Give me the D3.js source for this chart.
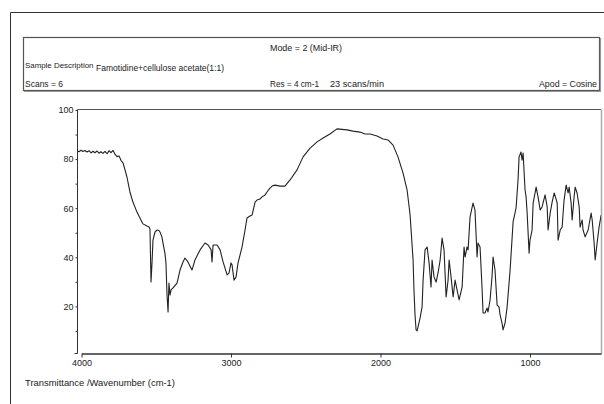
<!DOCTYPE html>
<html>
<head>
<meta charset="utf-8">
<script src="https://cdn.jsdelivr.net/npm/d3@7/dist/d3.min.js"></script>
<style>
  html, body { margin: 0; padding: 0; background: #fff; }
  svg { display: block; }
  text { font-family: "Liberation Sans", Arial, sans-serif; fill: #222; }
</style>
</head>
<body>
<svg id="chart" width="604" height="404"></svg>
<script>
// IR spectrum: wavenumber (cm-1) and % transmittance
const wavenumber = [
  4030, 4017, 4003, 3990, 3977, 3963, 3950, 3936, 3923, 3910, 3896, 3883, 3870, 3856, 3843, 3829, 3816, 3803, 3789, 3776,
  3762, 3749, 3736, 3722, 3709, 3696, 3676, 3656, 3629, 3609, 3589, 3562, 3548, 3542, 3535, 3528, 3522, 3508, 3495, 3482,
  3475, 3462, 3455, 3442, 3435, 3428, 3421, 3415, 3408, 3401, 3388, 3361, 3341, 3321, 3308, 3288, 3261, 3241, 3207, 3174,
  3153, 3133, 3127, 3120, 3093, 3073, 3053, 3026, 3013, 3000, 2993, 2980, 2966, 2953, 2926, 2906, 2893, 2873, 2859, 2839,
  2826, 2806, 2792, 2772, 2759, 2739, 2725, 2705, 2672, 2639, 2605, 2558, 2518, 2471, 2424, 2384, 2338, 2291, 2258, 2224,
  2184, 2137, 2104, 2070, 2023, 1983, 1950, 1916, 1883, 1849, 1822, 1802, 1782, 1776, 1769, 1762, 1755, 1749, 1735, 1722,
  1715, 1702, 1688, 1675, 1662, 1655, 1642, 1628, 1615, 1601, 1588, 1575, 1561, 1548, 1541, 1528, 1514, 1501, 1488, 1474,
  1454, 1441, 1434, 1421, 1414, 1401, 1388, 1381, 1368, 1354, 1348, 1334, 1321, 1314, 1301, 1287, 1281, 1267, 1254, 1247,
  1234, 1220, 1207, 1200, 1187, 1180, 1167, 1153, 1133, 1113, 1093, 1080, 1073, 1060, 1053, 1046, 1033, 1026, 1019, 1006,
  1000, 986, 979, 959, 946, 932, 919, 899, 885, 879, 865, 852, 838, 818, 812, 798, 785, 772, 758, 745,
  738, 725, 718, 705, 698, 685, 671, 665, 651, 645, 631, 611, 591, 584, 571, 564, 551, 538, 524
];
const transmittance = [
  83.4, 83.0, 83.6, 83.1, 83.5, 82.9, 83.4, 82.5, 83.2, 82.6, 83.3, 82.4, 83.0, 82.3, 83.1, 82.2, 83.4, 82.6, 83.5, 82.0,
  81.0, 81.3, 79.5, 78.4, 75.6, 72.7, 66.6, 62.5, 58.4, 56.0, 53.6, 52.7, 52.3, 51.5, 29.9, 38.1, 47.0, 50.3, 51.1, 50.9,
  50.3, 48.3, 45.8, 41.7, 37.7, 24.6, 17.7, 29.5, 24.6, 26.7, 27.5, 29.5, 34.8, 38.1, 39.7, 38.1, 34.8, 38.9, 43.0, 45.8,
  45.0, 43.0, 38.1, 45.0, 45.0, 43.0, 38.1, 32.8, 33.6, 37.7, 36.9, 30.7, 32.0, 37.7, 44.2, 51.1, 56.0, 56.8, 57.2, 62.5,
  63.3, 63.7, 64.6, 65.4, 66.6, 68.2, 69.0, 69.4, 69.0, 69.0, 71.5, 75.6, 80.9, 84.5, 87.0, 88.6, 90.2, 92.3, 92.1, 91.9,
  91.4, 91.0, 90.2, 90.2, 89.4, 88.2, 87.8, 85.7, 80.9, 74.3, 67.4, 57.2, 38.9, 26.7, 16.5, 10.4, 10.0, 11.6, 15.3, 19.7,
  30.7, 43.0, 44.2, 37.7, 27.9, 38.9, 32.0, 29.9, 33.6, 38.9, 47.8, 43.0, 23.8, 30.7, 38.9, 32.0, 23.8, 30.7, 26.7, 22.6,
  27.9, 44.2, 40.1, 44.2, 43.0, 56.4, 60.1, 62.1, 59.3, 40.1, 45.8, 44.2, 27.9, 17.3, 17.3, 19.3, 17.7, 22.6, 32.0, 40.1,
  34.8, 20.6, 19.7, 16.5, 13.2, 10.4, 13.2, 19.7, 34.8, 54.4, 60.1, 71.5, 80.9, 82.9, 79.6, 82.5, 67.4, 64.6, 58.0, 41.7,
  47.0, 51.1, 62.1, 68.6, 64.6, 59.3, 60.5, 65.4, 60.5, 51.1, 58.0, 62.5, 66.2, 62.1, 47.0, 51.1, 52.3, 63.3, 69.4, 66.2,
  68.6, 62.1, 55.2, 64.6, 68.6, 66.2, 60.5, 52.3, 55.2, 51.1, 48.3, 51.1, 58.0, 55.2, 45.8, 38.9, 45.8, 52.3, 57.2
];

const xTicks = [4000, 3000, 2000, 1000];
const yTicks = [10, 20, 30, 40, 50, 60, 70, 80, 90, 100];
const yLabelled = [20, 40, 60, 80, 100];

const headerMode = "Mode = 2 (Mid-IR)";
const headerSampleLabel = "Sample Description";
const headerSample = "Famotidine+cellulose acetate(1:1)";
const headerScans = "Scans = 6";
const headerRes = "Res = 4 cm-1";
const headerRate = "23 scans/min";
const headerApod = "Apod = Cosine";
const footerLabel = "Transmittance /Wavenumber (cm-1)";

const svg = d3.select("#chart");

// outer page frame
svg.append("path")
  .attr("d", "M10.5,404 V12.5 H604")
  .attr("fill", "none").attr("stroke", "#333").attr("stroke-width", 1);

// header box with acquisition parameters
svg.append("rect")
  .attr("x", 23.5).attr("y", 37.5).attr("width", 576).attr("height", 53)
  .attr("fill", "none").attr("stroke", "#555").attr("stroke-width", 1.2);
svg.append("path")
  .attr("d", "M600.5,38 V91.5 H24")
  .attr("fill", "none").attr("stroke", "#999").attr("stroke-width", 1.2);

// header lettering, fitted to its printed width where a length is given
function label(g, str, xPos, yPos, len, size) {
  const t = g.append("text")
    .attr("x", xPos).attr("y", yPos)
    .text(str);
  if (size) t.attr("font-size", size);
  if (len) t.attr("textLength", len).attr("lengthAdjust", "spacingAndGlyphs");
  return t;
}
const hdr = svg.append("g").attr("font-size", 9.5);
label(hdr, headerMode, 270, 50.5, 72);
label(hdr, headerSampleLabel, 25, 68, null, 7.9);
label(hdr, headerSample, 96, 70.5, 128);
label(hdr, headerScans, 25, 86.5, 38);
label(hdr, headerRes, 270, 86.5, 49);
label(hdr, headerRate, 330, 86.5, 54);
label(hdr, headerApod, 539, 86.5, 58);

// scales
const x = d3.scaleLinear().domain([4000, 525]).range([81.5, 601]);
const y = d3.scaleLinear().domain([1, 100]).range([353, 110]);

// plot frame: top and right edges
svg.append("line").attr("x1", 77.5).attr("x2", 601).attr("y1", 109.5).attr("y2", 109.5)
  .attr("stroke", "#555").attr("stroke-width", 1);
svg.append("line").attr("x1", 601.5).attr("x2", 601.5).attr("y1", 109.5).attr("y2", 354)
  .attr("stroke", "#aaa").attr("stroke-width", 1.5);

// y axis
const yAxis = svg.append("g").attr("transform", "translate(77.5,0)")
  .call(d3.axisLeft(y).tickValues(yTicks).tickSize(2).tickSizeOuter(0)
    .tickFormat(d => yLabelled.includes(d) ? d : ""));
yAxis.select(".domain").attr("stroke", "#333").attr("d", "M0,109.5V353.5H-3");
yAxis.selectAll(".tick line").attr("stroke", "#333");
yAxis.selectAll(".tick text").attr("font-size", 9).attr("font-family", "Liberation Sans, Arial, sans-serif")
  .attr("fill", "#222").attr("x", -4);

// x axis
const xAxis = svg.append("g").attr("transform", "translate(0,353.5)")
  .call(d3.axisBottom(x).tickValues(xTicks).tickSize(4).tickSizeOuter(0).tickFormat(d3.format("d")));
xAxis.select(".domain").attr("stroke", "#333").attr("stroke-width", 1.3);
xAxis.selectAll(".tick line").attr("stroke", "#333");
xAxis.selectAll(".tick text").attr("font-size", 9).attr("font-family", "Liberation Sans, Arial, sans-serif")
  .attr("fill", "#222").attr("y", 6);

// spectrum trace
svg.append("clipPath").attr("id", "plotClip")
  .append("rect").attr("x", 77).attr("y", 105).attr("width", 524).attr("height", 250);

const pts = wavenumber.map((w, i) => [w, transmittance[i]]);
svg.append("path")
  .datum(pts)
  .attr("clip-path", "url(#plotClip)")
  .attr("fill", "none")
  .attr("stroke", "#222")
  .attr("stroke-width", 1.1)
  .attr("stroke-linejoin", "round")
  .attr("d", d3.line().x(d => x(d[0])).y(d => y(d[1])));

// footer axis caption
label(svg.append("g").attr("font-size", 9.5), footerLabel, 25, 386, 150);
</script>
</body>
</html>
